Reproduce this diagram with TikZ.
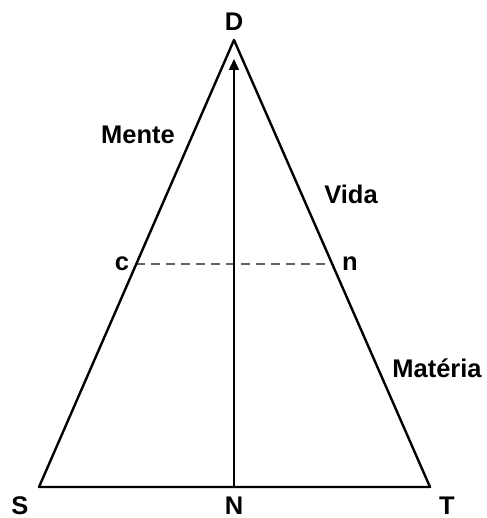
\documentclass[tikz,border=0pt]{standalone}
\usepackage{fontspec}
\setmainfont{Liberation Sans}
\usetikzlibrary{arrows.meta}
\begin{document}
\begin{tikzpicture}[x=1pt,y=-1pt,
  lbl/.style={font=\fontsize{25.5}{30}\selectfont\bfseries, inner sep=0pt},
  baselbl/.style={lbl, anchor=base, text depth=0pt},
  side/.style={line width=2.4pt, line join=round},
  axis/.style={line width=1.5pt, -{Triangle[length=11pt,width=10pt]}},
  midline/.style={line width=2pt, dash pattern=on 9pt off 6pt, draw={rgb,255:red,100;green,100;blue,100}}]
\useasboundingbox (0,0) rectangle (486,518);
\coordinate (S) at (39,487);
\coordinate (T) at (430,487);
\coordinate (D) at (234,40);
\coordinate (N) at (234,487);
\coordinate (Ntop) at (234,59);
\coordinate (c) at (136,264);
\coordinate (n) at (332.5,264);
\draw[midline] (c) -- (n);
\draw[axis] (N) -- (Ntop);
\draw[side] (S) -- (D) -- (T) -- cycle;
\node[lbl] (lD) at (234,22) {D};
\node[baselbl] (lS) at (20,514) {S};
\node[baselbl] (lN) at (234,514) {N};
\node[baselbl] (lT) at (447,514) {T};
\node[lbl] (lc) at (122,264) {c};
\node[lbl] (ln) at (350,264) {n};
\node[lbl] (lMente) at (138,135) {Mente};
\node[lbl] (lVida) at (351,194) {Vida};
\node[lbl] (lMat) at (437,368) {Matéria};
\end{tikzpicture}
\end{document}
